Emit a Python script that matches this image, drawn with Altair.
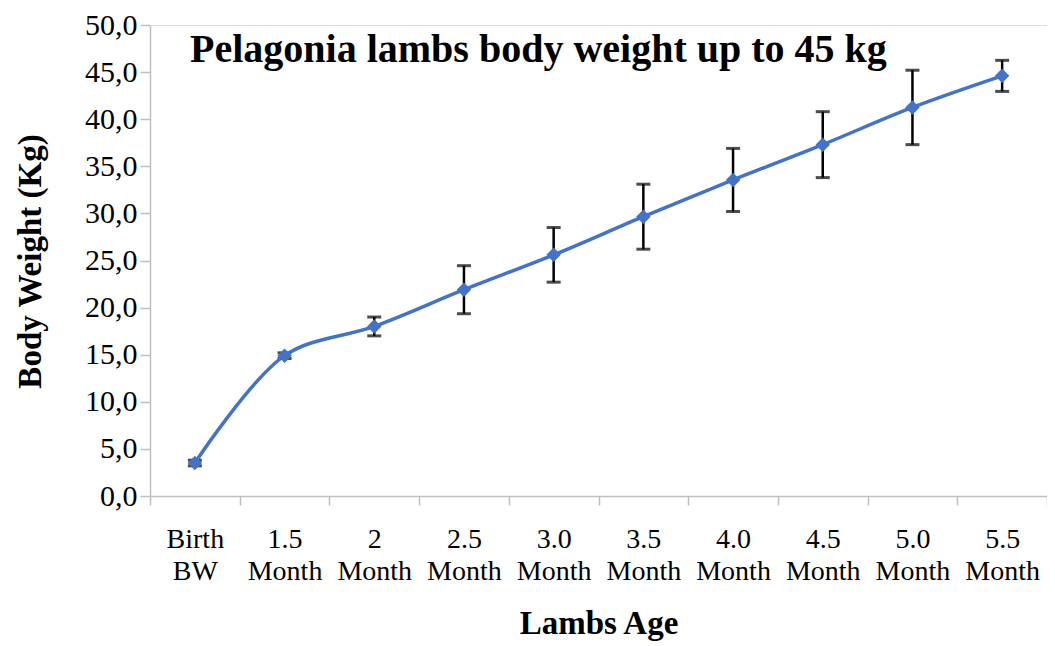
import altair as alt
import pandas as pd

ages = ["Birth BW", "1.5 Month", "2 Month", "2.5 Month", "3.0 Month",
        "3.5 Month", "4.0 Month", "4.5 Month", "5.0 Month", "5.5 Month"]
weights = [3.5, 14.9, 18.0, 21.9, 25.6, 29.65, 33.55, 37.3, 41.25, 44.6]
sds = [0.3, 0.3, 1.0, 2.55, 2.9, 3.45, 3.35, 3.5, 3.95, 1.65]
title_text = "Pelagonia lambs body weight up to 45 kg"

df = pd.DataFrame({"age": ages, "w": weights, "sd": sds})
df["lo"] = df["w"] - df["sd"]
df["hi"] = df["w"] + df["sd"]

FONT = "Liberation Serif"
BLUE = "#4472C4"

x_enc = alt.X(
    "age:N", sort=ages, bandPosition=0.5,
    scale=alt.Scale(type="band", paddingInner=0, paddingOuter=0),
    axis=alt.Axis(
        title="Lambs Age", tickBand="extent", labelAngle=0,
        labelExpr="split(datum.label, ' ')",
        labelFont=FONT, labelFontSize=28, labelColor="black", labelLineHeight=32,
        labelPadding=20, tickSize=9, tickColor="#bfbfbf", tickWidth=1.5,
        domainColor="#bfbfbf", domainWidth=1.5,
        titleFont=FONT, titleFontSize=33, titleFontWeight="bold", titleColor="black",
        titleY=127, titleBaseline="middle",
    ),
)

y_scale = alt.Scale(domain=[0, 50], nice=False, zero=True)
y_axis = alt.Axis(
    title="Body Weight (Kg)", values=list(range(0, 51, 5)), grid=False,
    labelExpr="replace(format(datum.value, '.1f'), '.', ',')",
    labelFont=FONT, labelFontSize=30, labelColor="black", labelPadding=3,
    tickSize=10, tickColor="#bfbfbf", tickWidth=1.5,
    domainColor="#bfbfbf", domainWidth=1.5,
    titleFont=FONT, titleFontSize=33, titleFontWeight="bold", titleColor="black",
    titleX=-120, titleY=236, titleAngle=-90, titleAlign="center", titleBaseline="middle",
)

base = alt.Chart(df)

rules = base.mark_rule(color="black", strokeWidth=2.5).encode(
    x=x_enc,
    y=alt.Y("lo:Q", scale=y_scale, axis=y_axis),
    y2="hi:Q",
)
caps_lo = base.mark_tick(color="black", thickness=3, size=14).encode(
    x=x_enc, y=alt.Y("lo:Q", scale=y_scale, axis=y_axis))
caps_hi = base.mark_tick(color="black", thickness=3, size=14).encode(
    x=x_enc, y=alt.Y("hi:Q", scale=y_scale, axis=y_axis))

line = base.mark_line(color=BLUE, strokeWidth=3.5, interpolate="catmull-rom").encode(
    x=x_enc, y=alt.Y("w:Q", scale=y_scale, axis=y_axis))
points = base.mark_point(shape="diamond", filled=True, color=BLUE, opacity=1, size=210).encode(
    x=x_enc, y=alt.Y("w:Q", scale=y_scale, axis=y_axis))

title = alt.Chart(pd.DataFrame({"t": [title_text]})).mark_text(
    align="left", baseline="alphabetic", font=FONT, fontSize=40,
    fontWeight="bold", color="black",
).encode(text="t:N", x=alt.value(40), y=alt.value(37))

chart = alt.layer(rules, caps_lo, caps_hi, line, points, title).properties(
    width=897, height=471,
    autosize=alt.AutoSizeParams(type="none"),
    padding={"left": 142, "top": 17, "right": 0, "bottom": 146},
).configure_view(stroke=None).configure(background="white")

chart.save("out.html", embed_options={"renderer": "svg", "actions": False})
